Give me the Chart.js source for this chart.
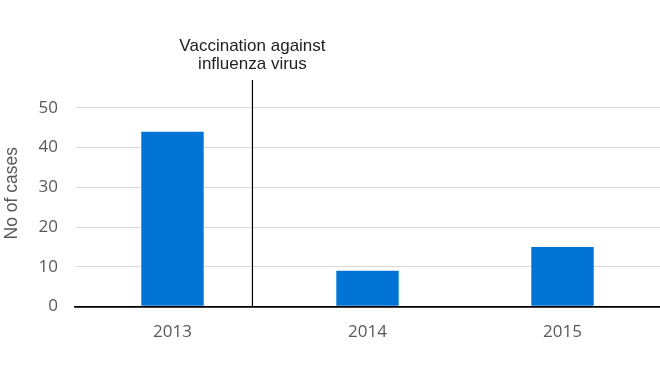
<!DOCTYPE html>
<html>
<head>
<meta charset="utf-8">
<script src="https://cdn.jsdelivr.net/npm/chart.js@4"></script>
<style>
  body { margin: 0; background: #fff; }
  #wrap { width: 660px; height: 371px; position: relative; }
</style>
</head>
<body>
<div id="wrap"><canvas id="myChart"></canvas></div>
<script>
let years = ['2013', '2014', '2015']
let cases = [44, 9, 15]
let yTicks = [0, 10, 20, 30, 40, 50]
let noteLines = ['Vaccination against', 'influenza virus']
// marker sits between 2013 and 2014, in category units
let markerAt = 0.41

const markerLine = {
  id: 'markerLine',
  afterDatasetsDraw(chart) {
    const ctx = chart.ctx
    const x = chart.scales.x.getPixelForValue(markerAt)
    const area = chart.chartArea
    ctx.save()
    ctx.strokeStyle = '#000'
    ctx.lineWidth = 1.2
    ctx.beginPath()
    ctx.moveTo(x, area.top)
    ctx.lineTo(x, area.bottom)
    ctx.stroke()
    ctx.fillStyle = '#222'
    ctx.font = '17px "Liberation Sans", Arial, sans-serif'
    ctx.textAlign = 'center'
    ctx.textBaseline = 'middle'
    noteLines.forEach((t, i) => ctx.fillText(t, x, 46 + i * 18))
    ctx.restore()
  }
}

function chart() {
  const ctx = document.getElementById('myChart')
  new Chart(ctx, {
    type: 'bar',
    data: {
      labels: years,
      datasets: [{
        label: 'No of cases',
        data: cases,
        backgroundColor: '#0274d6',
        barPercentage: 0.32,
        categoryPercentage: 1
      }]
    },
    options: {
      responsive: true,
      maintainAspectRatio: false,
      animation: false,
      layout: { padding: { top: 80, right: 0, bottom: 22, left: 0 } },
      plugins: { legend: { display: false }, tooltip: { enabled: false } },
      scales: {
        x: {
          grid: { display: false },
          border: { display: true, color: '#000', width: 1.5 },
          ticks: { color: '#595959', padding: 7, font: { family: '"Open Sans"', size: 17 } }
        },
        y: {
          min: 0,
          max: 57,
          afterBuildTicks: (scale) => {
            scale.ticks = yTicks.map((v) => ({ value: v }))
          },
          afterFit: (scale) => { scale.width = 75 },
          border: { display: false },
          grid: {
            drawTicks: false,
            color: (c) => c.tick && c.tick.value === 0 ? '#000' : '#d9d9d9',
            lineWidth: (c) => c.tick && c.tick.value === 0 ? 1.5 : 1
          },
          ticks: { color: '#595959', padding: 17, font: { family: '"Open Sans"', size: 17 } },
          title: {
            display: true,
            text: 'No of cases',
            color: '#595959',
            padding: { top: 2, bottom: 0 },
            font: { family: '"Liberation Sans"', size: 17.5 }
          }
        }
      }
    },
    plugins: [markerLine]
  })
}
chart()
</script>
</body>
</html>
